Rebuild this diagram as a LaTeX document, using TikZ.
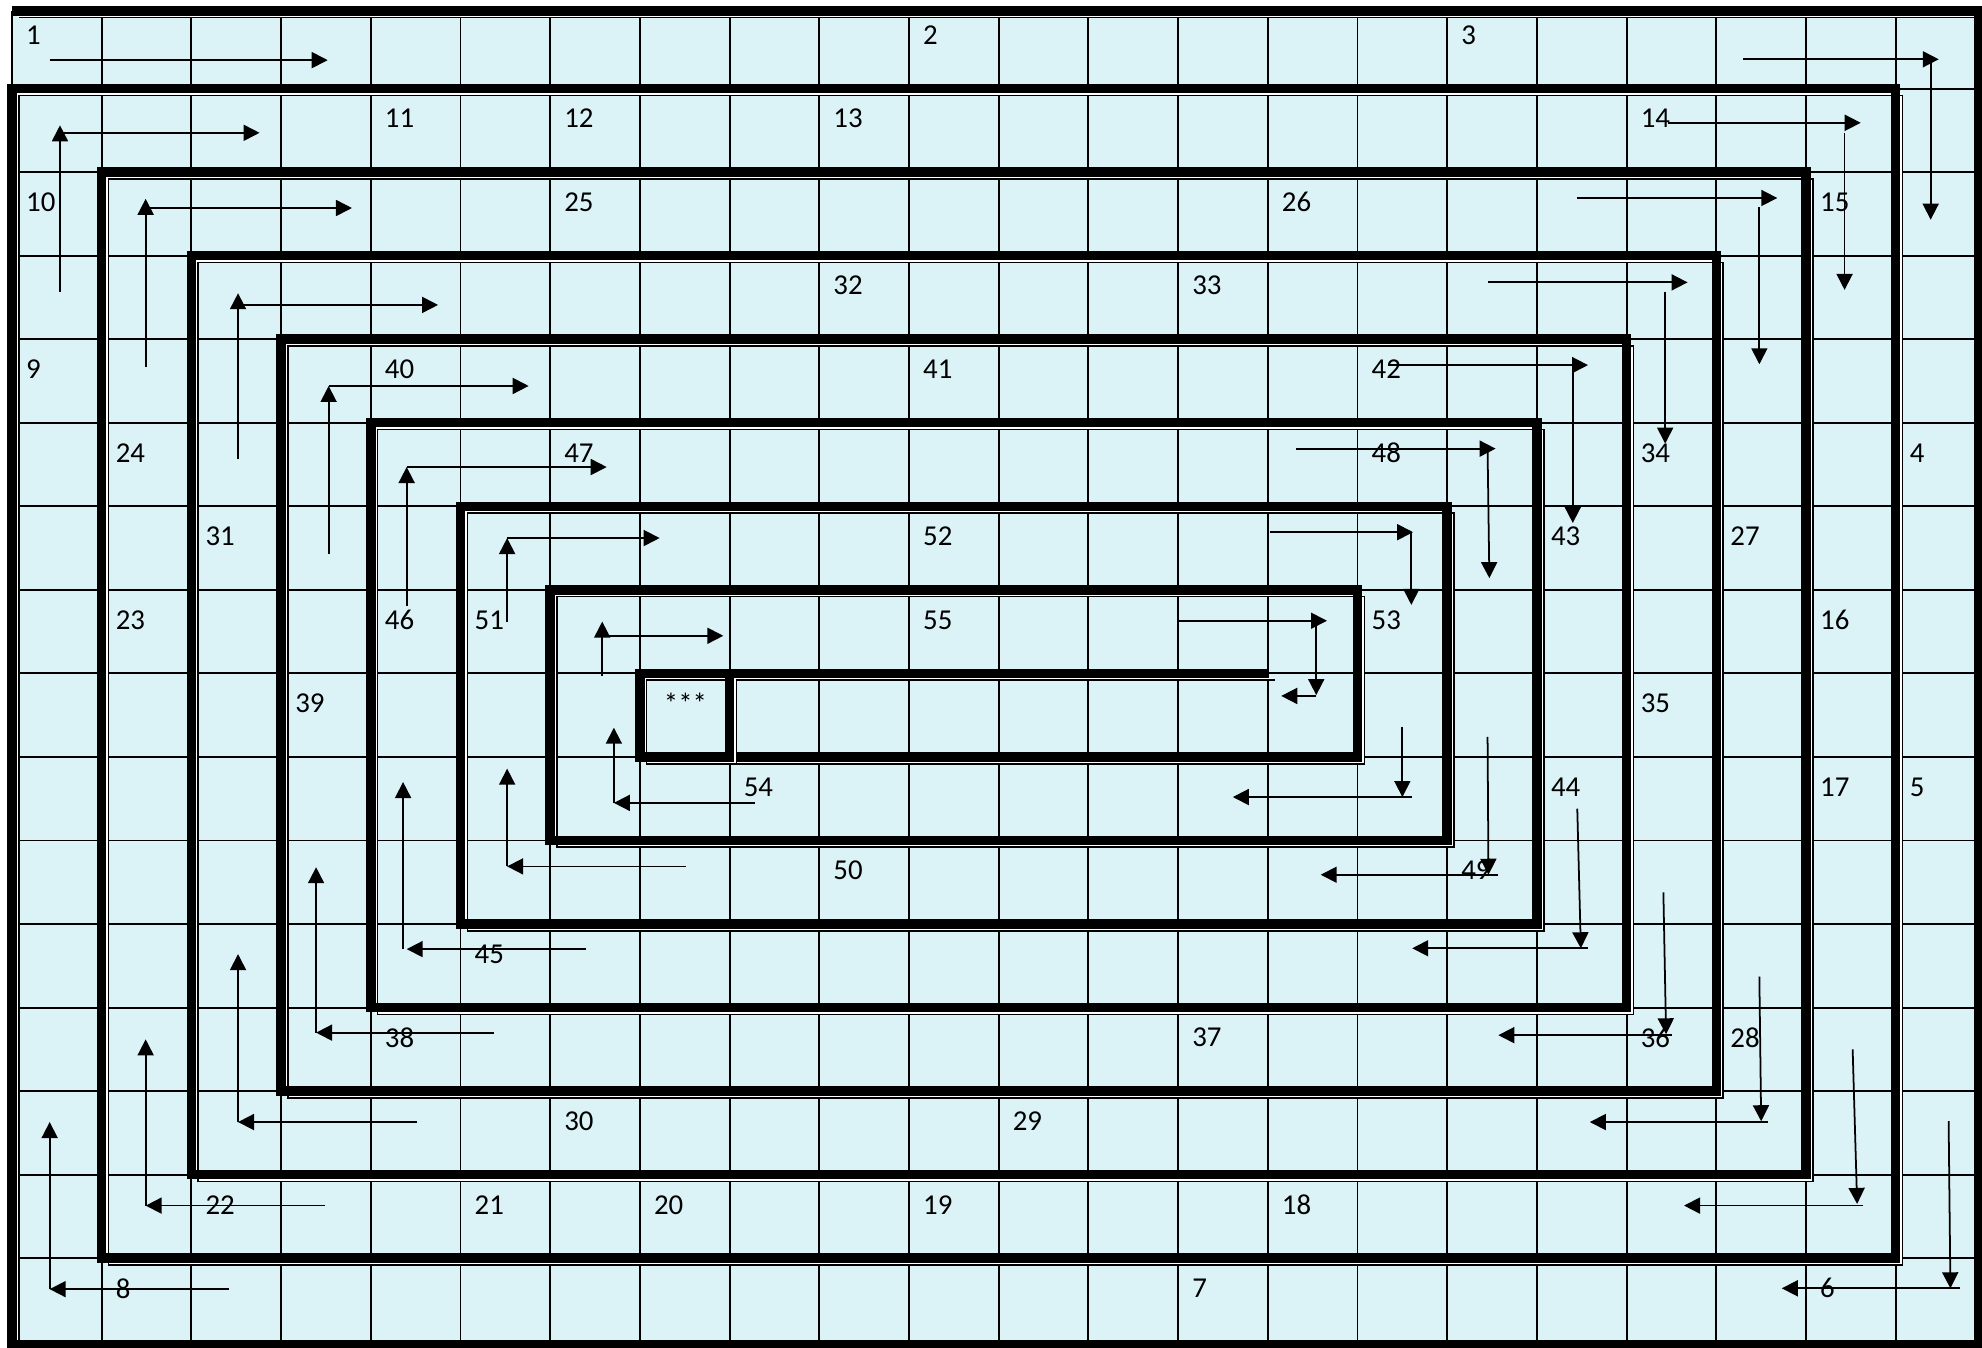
\documentclass[tikz,border=0pt]{standalone}
\usepackage{fontspec}
\setmainfont{Carlito}
\usepackage{xcolor}
\usepackage{tikz}
\usetikzlibrary{arrows.meta}
\definecolor{cellblue}{RGB}{219,243,247}

\begin{document}
\begin{tikzpicture}[x=0.897cm, y=-0.8355cm,
  gridline/.style={line width=0.55pt},
  wall/.style={line width=2.7pt,
    preaction={draw, white, line width=0.4pt, transform canvas={shift={(0.053cm,-0.053cm)}}},
    preaction={draw, black, line width=0.45pt, transform canvas={shift={(0.068cm,-0.068cm)}}}},
  flow/.style={line width=0.5pt, -{Triangle[length=1.6mm,width=1.6mm]}},
  num/.style={anchor=west, inner sep=0pt, font=\fontsize{8.2pt}{10pt}\selectfont}]
\useasboundingbox (-0.1338,-0.0598) rectangle (21.962,16.074);
\fill[cellblue] (0,0.07) rectangle (21.93,16.04);
\foreach \c in {0,...,21} \draw[gridline] (\c,0.07) -- (\c,16.04);
\foreach \r in {1,...,15} \draw[gridline] (0,\r) -- (21.93,\r);
\draw[wall] (0,0.07) -- (21.93,0.07) -- (21.93,16.04) -- (0,16.04) -- (0,1) -- (21,1) -- (21,15) -- (1,15) -- (1,2) -- (20,2) -- (20,14) -- (2,14) -- (2,3) -- (19,3) -- (19,13) -- (3,13) -- (3,4) -- (18,4) -- (18,12) -- (4,12) -- (4,5) -- (17,5) -- (17,11) -- (5,11) -- (5,6) -- (16,6) -- (16,10) -- (6,10) -- (6,7) -- (15,7) -- (15,9) -- (7,9) -- (7,8) -- (14,8);
\draw[wall] (8,8) -- (8,9);

\node[num] (n1) at (0.15,0.36) {1};
\node[num] (n2) at (10.15,0.36) {2};
\node[num] (n3) at (16.15,0.36) {3};
\node[num] (n4) at (21.15,5.36) {4};
\node[num] (n5) at (21.15,9.36) {5};
\node[num] (n6) at (20.15,15.36) {6};
\node[num] (n7) at (13.15,15.36) {7};
\node[num] (n8) at (1.15,15.36) {8};
\node[num] (n9) at (0.15,4.36) {9};
\node[num] (n10) at (0.15,2.36) {10};
\node[num] (n11) at (4.15,1.36) {11};
\node[num] (n12) at (6.15,1.36) {12};
\node[num] (n13) at (9.15,1.36) {13};
\node[num] (n14) at (18.15,1.36) {14};
\node[num] (n15) at (20.15,2.36) {15};
\node[num] (n16) at (20.15,7.36) {16};
\node[num] (n17) at (20.15,9.36) {17};
\node[num] (n18) at (14.15,14.36) {18};
\node[num] (n19) at (10.15,14.36) {19};
\node[num] (n20) at (7.15,14.36) {20};
\node[num] (n21) at (5.15,14.36) {21};
\node[num] (n22) at (2.15,14.36) {22};
\node[num] (n23) at (1.15,7.36) {23};
\node[num] (n24) at (1.15,5.36) {24};
\node[num] (n25) at (6.15,2.36) {25};
\node[num] (n26) at (14.15,2.36) {26};
\node[num] (n27) at (19.15,6.36) {27};
\node[num] (n28) at (19.15,12.36) {28};
\node[num] (n29) at (11.15,13.36) {29};
\node[num] (n30) at (6.15,13.36) {30};
\node[num] (n31) at (2.15,6.36) {31};
\node[num] (n32) at (9.15,3.36) {32};
\node[num] (n33) at (13.15,3.36) {33};
\node[num] (n34) at (18.15,5.36) {34};
\node[num] (n35) at (18.15,8.36) {35};
\node[num] (n36) at (18.15,12.36) {36};
\node[num] (n37) at (13.15,12.36) {37};
\node[num] (n38) at (4.15,12.36) {38};
\node[num] (n39) at (3.15,8.36) {39};
\node[num] (n40) at (4.15,4.36) {40};
\node[num] (n41) at (10.15,4.36) {41};
\node[num] (n42) at (15.15,4.36) {42};
\node[num] (n43) at (17.15,6.36) {43};
\node[num] (n44) at (17.15,9.36) {44};
\node[num] (n45) at (5.15,11.36) {45};
\node[num] (n46) at (4.15,7.36) {46};
\node[num] (n47) at (6.15,5.36) {47};
\node[num] (n48) at (15.15,5.36) {48};
\node[num] (n49) at (16.15,10.36) {49};
\node[num] (n50) at (9.15,10.36) {50};
\node[num] (n51) at (5.15,7.36) {51};
\node[num] (n52) at (10.15,6.36) {52};
\node[num] (n53) at (15.15,7.36) {53};
\node[num] (n54) at (8.15,9.36) {54};
\node[num] (n55) at (10.15,7.36) {55};
\node[num] (stars) at (7.26,8.36) {***};

\draw[flow] (0.42,0.66) -- (3.52,0.66);
\draw[flow] (19.30,0.65) -- (21.48,0.65);
\draw[flow] (21.39,0.70) -- (21.39,2.57);
\draw[flow] (21.59,13.36) -- (21.61,15.36);
\draw[flow] (21.72,15.36) -- (19.73,15.36);
\draw[flow] (2.42,15.37) -- (0.42,15.37);
\draw[flow] (0.42,15.37) -- (0.42,13.37);
\draw[flow] (0.535,3.43) -- (0.535,1.44);
\draw[flow] (0.535,1.53) -- (2.76,1.53);
\draw[flow] (18.46,1.41) -- (20.61,1.41);
\draw[flow] (20.43,1.53) -- (20.43,3.41);
\draw[flow] (20.52,12.5) -- (20.57,14.35);
\draw[flow] (20.64,14.37) -- (18.64,14.37);
\draw[flow] (3.49,14.37) -- (1.49,14.37);
\draw[flow] (1.49,14.37) -- (1.49,12.38);
\draw[flow] (1.49,4.33) -- (1.49,2.32);
\draw[flow] (1.49,2.43) -- (3.79,2.43);
\draw[flow] (17.45,2.31) -- (19.68,2.31);
\draw[flow] (19.48,2.42) -- (19.48,4.30);
\draw[flow] (19.48,11.63) -- (19.50,13.36);
\draw[flow] (19.58,13.37) -- (17.59,13.37);
\draw[flow] (4.52,13.37) -- (2.52,13.37);
\draw[flow] (2.52,13.37) -- (2.52,11.36);
\draw[flow] (2.52,5.43) -- (2.52,3.45);
\draw[flow] (2.52,3.59) -- (4.75,3.59);
\draw[flow] (16.45,3.32) -- (18.68,3.32);
\draw[flow] (18.43,3.43) -- (18.43,5.25);
\draw[flow] (18.41,10.62) -- (18.44,12.32);
\draw[flow] (18.51,12.33) -- (16.57,12.33);
\draw[flow] (5.37,12.30) -- (3.39,12.30);
\draw[flow] (3.39,12.30) -- (3.39,10.32);
\draw[flow] (3.53,6.57) -- (3.53,4.56);
\draw[flow] (3.53,4.56) -- (5.76,4.56);
\draw[flow] (15.34,4.31) -- (17.57,4.31);
\draw[flow] (17.40,4.31) -- (17.40,6.20);
\draw[flow] (17.45,9.62) -- (17.49,11.29);
\draw[flow] (17.57,11.29) -- (15.61,11.29);
\draw[flow] (6.40,11.30) -- (4.40,11.30);
\draw[flow] (4.36,11.30) -- (4.36,9.30);
\draw[flow] (4.40,7.19) -- (4.40,5.53);
\draw[flow] (4.40,5.53) -- (6.63,5.53);
\draw[flow] (14.31,5.31) -- (16.54,5.31);
\draw[flow] (16.45,5.31) -- (16.47,6.86);
\draw[flow] (16.45,8.76) -- (16.46,10.41);
\draw[flow] (16.57,10.41) -- (14.59,10.41);
\draw[flow] (7.51,10.31) -- (5.52,10.31);
\draw[flow] (5.52,10.31) -- (5.52,9.14);
\draw[flow] (5.52,7.38) -- (5.52,6.38);
\draw[flow] (5.52,6.38) -- (7.22,6.38);
\draw[flow] (14.02,6.31) -- (15.62,6.31);
\draw[flow] (15.60,6.31) -- (15.60,7.18);
\draw[flow] (15.50,8.64) -- (15.50,9.48);
\draw[flow] (15.61,9.48) -- (13.61,9.48);
\draw[flow] (8.28,9.55) -- (6.71,9.55);
\draw[flow] (6.71,9.55) -- (6.71,8.65);
\draw[flow] (6.58,8.03) -- (6.58,7.38);
\draw[flow] (6.58,7.55) -- (7.93,7.55);
\draw[flow] (12.99,7.37) -- (14.66,7.37);
\draw[flow] (14.54,7.37) -- (14.54,8.26);
\draw[flow] (14.54,8.27) -- (14.15,8.27);
\end{tikzpicture}
\end{document}
